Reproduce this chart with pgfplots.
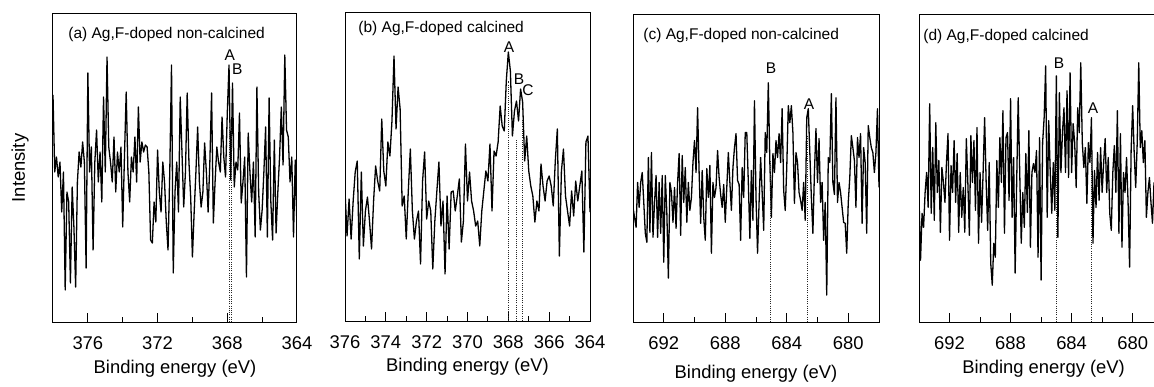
\documentclass[border=0pt]{standalone}
\usepackage{pgfplots}
\pgfplotsset{compat=1.18}
\usepackage{fontspec}
\setmainfont{Liberation Sans}
\newcommand{\lblfont}{\fontsize{9.2}{11}\selectfont}
\newcommand{\annfont}{\fontsize{7.75}{9}\selectfont}
\pgfplotsset{
  xps/.style={
    scale only axis, anchor=south west,
    height=154pt,
    x dir=reverse, ymin=0, ymax=308, ytick=\empty,
    tick align=inside, xtick pos=left,
    major tick length=4.5pt, minor tick length=2.5pt,
    axis line style={line width=0.5pt, black},
    every tick/.style={black, line width=0.5pt},
    xticklabel style={font=\lblfont},
    xticklabel shift=4pt,
    /pgf/number format/assume math mode=true,
    /pgf/number format/set thousands separator={},
  },
  trace/.style={black, line width=0.65pt, line join=round, no markers},
  guide/.style={black!85, line width=0.5pt, dash pattern=on 0.5pt off 0.6pt},
}
\begin{document}
\begin{tikzpicture}
\useasboundingbox (0,0) rectangle (577pt,193pt);
% ---------------- (a) ----------------
\begin{axis}[xps, at={(26.5pt,32pt)}, width=122pt,
  xmin=364, xmax=378, xtick={364,368,372,376}, minor xtick={366,370,374},
  xlabel={Binding energy (eV)},
  xlabel style={font=\lblfont, at={(axis description cs:0.5,-0.153)}, anchor=center},
  ylabel={Intensity}, ylabel style={font=\lblfont, at={(axis description cs:-0.135,0.5)}, anchor=center}]
\addplot[trace] table[x expr={378-0.1*\coordindex}, y index=0, row sep=\\] {h\\
227\\150\\165\\145\\160\\110\\150\\32\\130\\120\\
39\\135\\95\\35\\140\\170\\155\\180\\160\\54\\
249\\150\\175\\72\\160\\192\\140\\170\\120\\225\\
150\\265\\175\\160\\140\\185\\130\\170\\150\\175\\
95\\165\\230\\150\\120\\165\\150\\185\\140\\215\\
160\\180\\170\\177\\175\\150\\82\\79\\120\\100\\
172\\130\\110\\160\\140\\100\\72\\150\\257\\49\\
130\\160\\110\\225\\170\\115\\150\\229\\160\\125\\
65\\110\\150\\195\\140\\115\\130\\179\\150\\110\\
160\\229\\99\\140\\175\\160\\150\\205\\165\\145\\
209\\257\\142\\239\\135\\160\\152\\209\\119\\140\\
165\\45\\189\\150\\120\\160\\85\\235\\130\\92\\
112\\150\\195\\85\\224\\120\\82\\182\\89\\130\\
165\\215\\157\\267\\192\\185\\140\\165\\85\\162\\
92\\
};
\addplot[guide] coordinates {(367.90,0) (367.90,195)};
\addplot[guide] coordinates {(367.75,0) (367.75,195)};
\node[anchor=west, inner sep=0pt, font=\annfont] at (axis cs:377.14,288) {(a) Ag,F-doped non-calcined};
\node[inner sep=0pt, font=\annfont] at (axis cs:367.85,267) {A};
\node[inner sep=0pt, font=\annfont] at (axis cs:367.43,253) {B};
\end{axis}
% ---------------- (b) ----------------
\begin{axis}[xps, at={(172.5pt,32.5pt)}, width=122.5pt,
  xmin=364, xmax=376, xtick={364,366,...,376}, minor xtick={365,367,...,375},
  xlabel={Binding energy (eV)},
  xlabel style={font=\lblfont, at={(axis description cs:0.5,-0.149)}, anchor=center}]
\addplot[trace] table[x expr={376-0.1*\coordindex}, y index=0, row sep=\\] {h\\
130\\85\\122\\82\\120\\149\\160\\62\\149\\75\\
110\\124\\100\\72\\120\\155\\140\\130\\202\\150\\
135\\179\\165\\200\\265\\192\\234\\212\\115\\125\\
82\\130\\172\\110\\82\\100\\110\\57\\140\\169\\
102\\120\\110\\52\\100\\130\\159\\95\\120\\47\\
125\\72\\129\\130\\110\\125\\142\\79\\100\\177\\
120\\149\\120\\110\\95\\100\\75\\110\\130\\150\\
140\\177\\110\\170\\165\\179\\215\\195\\190\\240\\
269\\250\\185\\210\\220\\200\\232\\219\\160\\185\\
150\\135\\125\\99\\120\\110\\157\\135\\120\\140\\
145\\135\\115\\160\\192\\65\\150\\172\\125\\110\\
95\\130\\105\\140\\120\\135\\150\\69\\179\\185\\
109\\
};
\addplot[guide] coordinates {(367.97,0) (367.97,240)};
\addplot[guide] coordinates {(367.58,0) (367.58,182)};
\addplot[guide] coordinates {(367.33,0) (367.33,202)};
\node[anchor=west, inner sep=0pt, font=\annfont] at (axis cs:375.36,293) {(b) Ag,F-doped calcined};
\node[inner sep=0pt, font=\annfont] at (axis cs:367.97,274) {A};
\node[inner sep=0pt, font=\annfont] at (axis cs:367.48,242) {B};
\node[inner sep=0pt, font=\annfont] at (axis cs:367.04,231) {C};
\end{axis}
% ---------------- (c) ----------------
\begin{axis}[xps, at={(316.5pt,32pt)}, width=123pt, height=153.5pt,
  xmin=678, xmax=694, xtick={680,684,688,692}, minor xtick={682,686,690},
  xlabel={Binding energy (eV)},
  xlabel style={font=\lblfont, at={(axis description cs:0.5,-0.169)}, anchor=center}]
\addplot[trace] table[x expr={694-0.1*\coordindex}, y index=0, row sep=\\] {h\\
115\\105\\95\\140\\115\\140\\150\\120\\89\\80\\
165\\90\\170\\85\\120\\147\\85\\140\\89\\147\\
60\\147\\110\\44\\140\\130\\100\\135\\94\\140\\
169\\87\\167\\120\\155\\100\\140\\112\\125\\160\\
182\\150\\215\\150\\99\\152\\105\\82\\154\\125\\
157\\69\\140\\125\\135\\172\\145\\128\\115\\138\\
100\\135\\170\\140\\112\\155\\175\\189\\142\\138\\
82\\155\\125\\190\\190\\140\\84\\152\\102\\222\\
125\\69\\120\\165\\130\\92\\190\\170\\240\\160\\
105\\169\\150\\182\\165\\189\\160\\214\\132\\112\\
155\\217\\200\\217\\190\\119\\170\\160\\130\\122\\
112\\140\\102\\205\\214\\170\\125\\89\\150\\194\\
140\\184\\120\\140\\82\\120\\27\\165\\160\\229\\
140\\128\\225\\120\\140\\130\\115\\100\\99\\69\\
120\\145\\187\\175\\162\\115\\185\\165\\189\\99\\
175\\160\\89\\197\\185\\175\\170\\150\\170\\214\\
135\\
};
\addplot[guide] coordinates {(685.09,0) (685.09,162)};
\addplot[guide] coordinates {(682.62,0) (682.62,187)};
\node[anchor=west, inner sep=0pt, font=\annfont] at (axis cs:693.35,287) {(c) Ag,F-doped non-calcined};
\node[inner sep=0pt, font=\annfont] at (axis cs:685.02,255) {B};
\node[inner sep=0pt, font=\annfont] at (axis cs:682.55,219) {A};
\end{axis}
% ---------------- (d) ----------------
\begin{axis}[xps, at={(459.5pt,32pt)}, width=117.5pt, height=153.5pt,
  axis x line=box, axis y line=left, y axis line style={-},
  tick align=inside, xtick pos=left, xticklabel shift=4pt,
  xmin=678.6, xmax=694, xtick={680,684,688,692}, minor xtick={682,686,690},
  xlabel={Binding energy (eV)},
  xlabel style={font=\lblfont, at={(axis description cs:0.53,-0.153)}, anchor=center}]
\addplot[trace] table[x expr={694-0.1*\coordindex}, y index=0, row sep=\\] {h\\
125\\62\\109\\95\\130\\150\\115\\219\\109\\175\\
102\\200\\130\\162\\90\\155\\140\\120\\160\\189\\
82\\157\\130\\182\\120\\169\\90\\150\\105\\135\\
90\\184\\140\\87\\187\\140\\182\\112\\195\\79\\
150\\100\\150\\205\\140\\92\\160\\59\\37\\79\\
65\\162\\115\\185\\140\\212\\89\\185\\190\\122\\
224\\105\\165\\49\\140\\225\\150\\79\\130\\95\\
169\\110\\192\\75\\150\\159\\150\\172\\65\\185\\
42\\180\\205\\257\\105\\202\\150\\109\\160\\112\\
247\\85\\230\\150\\190\\215\\150\\232\\145\\250\\
150\\199\\180\\135\\215\\190\\260\\180\\155\\175\\
119\\180\\160\\205\\79\\152\\115\\170\\122\\175\\
130\\160\\184\\130\\165\\109\\92\\150\\177\\130\\
212\\89\\189\\75\\150\\130\\165\\120\\55\\172\\
217\\170\\135\\180\\260\\175\\192\\160\\182\\105\\
130\\145\\120\\99\\140\\
};
\addplot[guide] coordinates {(684.97,0) (684.97,169)};
\addplot[guide] coordinates {(682.72,0) (682.72,172)};
\node[anchor=west, inner sep=0pt, font=\annfont] at (axis cs:693.74,286) {(d) Ag,F-doped calcined};
\node[inner sep=0pt, font=\annfont] at (axis cs:684.82,260) {B};
\node[inner sep=0pt, font=\annfont] at (axis cs:682.59,215) {A};
\end{axis}
\end{tikzpicture}
\end{document}
